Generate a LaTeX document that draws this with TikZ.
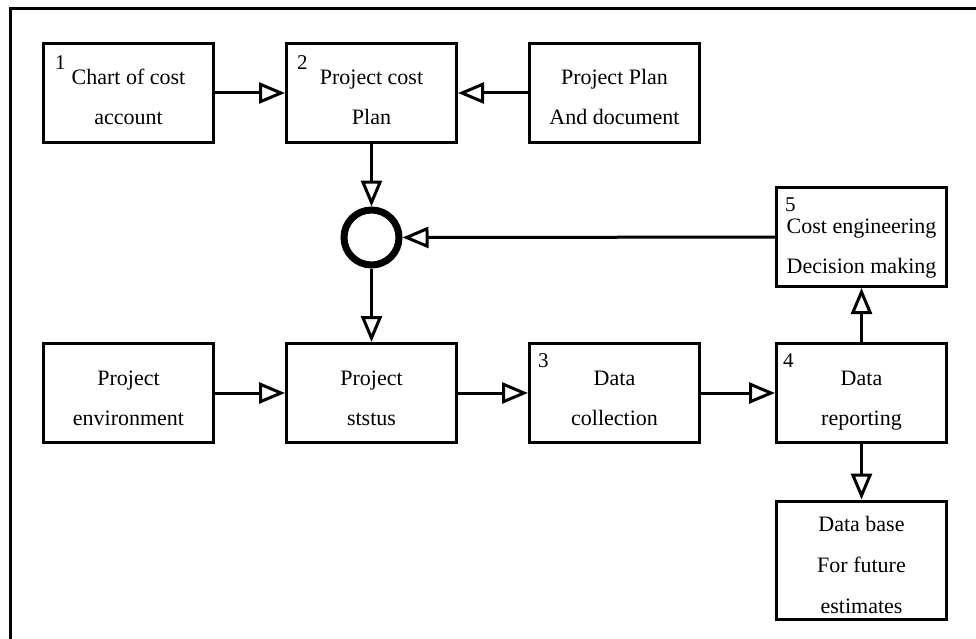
\documentclass[tikz,border=0pt]{standalone}
\usepackage{fontspec}
\setmainfont{Liberation Serif}
\usepackage{tikz}
\usetikzlibrary{arrows.meta,positioning}

\begin{document}
\begin{tikzpicture}[
    x=1pt, y=-1pt,
    box/.style={rectangle, draw, line width=3pt, fill=white, minimum width=170pt, minimum height=99pt, align=center, inner sep=0pt, font=\fontsize{22}{40}\selectfont,
      execute at begin node=\rule{0pt}{70pt}, execute at end node=\rule[-6pt]{0pt}{6pt}},
    num/.style={anchor=north west, inner sep=0pt, font=\fontsize{21}{24}\selectfont},
    junction/.style={circle, draw, line width=7pt, fill=white, minimum size=55pt, inner sep=0pt},
    arr/.style={line width=3pt, -{Triangle[open, length=26pt, width=21pt]}}
  ]
  \useasboundingbox (0,0) rectangle (976,639);
  % frame
  \draw[line width=3pt] (10,641) -- (10,8.5) -- (978,8.5);

  % top row
  \node[box] (chart) at (128.5,93) {Chart of cost\\account};
  \node[box] (cplan) at (371.5,93) {Project cost\\Plan};
  \node[box] (pplan) at (614.5,93) {Project Plan\\And document};

  % summing point and decision box
  \node[junction] (sum) at (371.5,237.5) {};
  \node[box, execute at begin node=\rule{0pt}{78pt}] (decide) at (861.5,237) {Cost engineering\\Decision making};

  % middle row
  \node[box] (env) at (128.5,393) {Project\\environment};
  \node[box] (status) at (371.5,393) {Project\\ststus};
  \node[box] (collect) at (614.5,393) {Data\\collection};
  \node[box] (report) at (861.5,393) {Data\\reporting};

  % data base
  \node[box, minimum height=115pt, font=\fontsize{22}{41}\selectfont, execute at begin node=\rule{0pt}{112pt}] (dbase) at (861.5,560) {Data base\\For future\\estimates};

  % step numbers
  \node[num] (n1) at (55,55) {1};
  \node[num] (n2) at (297,55) {2};
  \node[num] (n3) at (538,353) {3};
  \node[num] (n4) at (783,353) {4};
  \node[num] (n5) at (785,198) {5};

  % connections
  \draw[arr] (chart) -- (cplan);
  \draw[arr] (pplan) -- (cplan);
  \draw[arr] (cplan) -- (sum);
  \draw[arr] (decide) -- (sum);
  \draw[arr] (sum) -- (status);
  \draw[arr] (env) -- (status);
  \draw[arr] (status) -- (collect);
  \draw[arr] (collect) -- (report);
  \draw[arr] (report) -- (decide);
  \draw[arr] (report) -- (dbase);
\end{tikzpicture}
\end{document}
